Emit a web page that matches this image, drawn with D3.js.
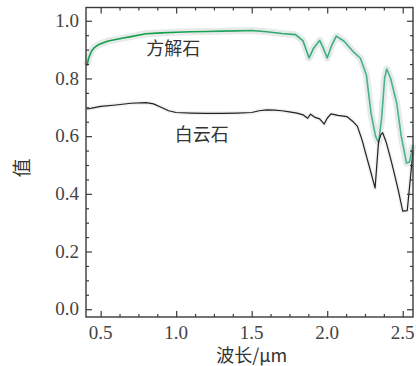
<!DOCTYPE html>
<html>
<head>
<meta charset="utf-8">
<script src="https://cdn.jsdelivr.net/npm/d3@7/dist/d3.min.js"></script>
<style>
  body { margin: 0; background: #fff; }
  svg { display: block; }
</style>
</head>
<body>
<div id="chart"></div>
<script>
// calcite (方解石) spectrum
const calciteWl = [0.41, 0.42, 0.44, 0.46, 0.48, 0.5, 0.55, 0.6, 0.65, 0.7, 0.8, 0.9, 1.0, 1.1, 1.2, 1.3, 1.4, 1.5, 1.6, 1.7, 1.79, 1.84, 1.88, 1.91, 1.95, 1.97, 2.0, 2.03, 2.06, 2.11, 2.17, 2.22, 2.26, 2.29, 2.32, 2.34, 2.36, 2.38, 2.394, 2.42, 2.46, 2.49, 2.525, 2.545, 2.568];
const calciteVal = [0.845, 0.87, 0.895, 0.908, 0.915, 0.92, 0.93, 0.935, 0.94, 0.945, 0.955, 0.958, 0.96, 0.962, 0.963, 0.964, 0.965, 0.966, 0.962, 0.956, 0.952, 0.93, 0.871, 0.905, 0.932, 0.91, 0.871, 0.915, 0.947, 0.93, 0.894, 0.87, 0.81, 0.68, 0.6, 0.577, 0.66, 0.8, 0.833, 0.8, 0.715, 0.6, 0.507, 0.51, 0.57];

// dolomite (白云石) spectrum
const dolomiteWl = [0.41, 0.45, 0.5, 0.6, 0.7, 0.8, 0.85, 0.9, 0.95, 1.0, 1.1, 1.2, 1.3, 1.4, 1.5, 1.55, 1.6, 1.65, 1.7, 1.75, 1.8, 1.84, 1.87, 1.89, 1.92, 1.95, 1.98, 2.0, 2.025, 2.07, 2.13, 2.17, 2.2, 2.23, 2.26, 2.29, 2.317, 2.34, 2.355, 2.367, 2.39, 2.416, 2.438, 2.47, 2.5, 2.53, 2.55, 2.568];
const dolomiteVal = [0.694, 0.698, 0.703, 0.708, 0.714, 0.716, 0.712, 0.7, 0.688, 0.682, 0.68, 0.679, 0.679, 0.68, 0.682, 0.688, 0.691, 0.69, 0.688, 0.684, 0.68, 0.674, 0.662, 0.676, 0.665, 0.66, 0.642, 0.662, 0.677, 0.672, 0.668, 0.651, 0.634, 0.588, 0.53, 0.473, 0.42, 0.58, 0.605, 0.612, 0.58, 0.53, 0.484, 0.414, 0.34, 0.342, 0.45, 0.55];

const xTicks = [0.5, 1.0, 1.5, 2.0, 2.5];
const yTicks = [0.0, 0.2, 0.4, 0.6, 0.8, 1.0];
const seriesLabels = ['方解石', '白云石'];
const xTitle = '波长/μm';
const yTitle = '值';

const W = 416, H = 366;
const margin = { top: 7.5, right: 3, bottom: 49, left: 86 };
const width = W - margin.left - margin.right;
const height = H - margin.top - margin.bottom;

const svg = d3.select('#chart').append('svg')
  .attr('width', W)
  .attr('height', H);

const defs = svg.append('defs');
const grad = defs.append('linearGradient')
  .attr('id', 'greenGrad')
  .attr('gradientUnits', 'userSpaceOnUse')
  .attr('x1', margin.left).attr('x2', margin.left + width)
  .attr('y1', 0).attr('y2', 0);
grad.append('stop').attr('offset', '0%').attr('stop-color', '#14a04a');
grad.append('stop').attr('offset', '25%').attr('stop-color', '#2aa868');
grad.append('stop').attr('offset', '60%').attr('stop-color', '#45b28e');
grad.append('stop').attr('offset', '100%').attr('stop-color', '#4fb79c');

const chart = svg.append('g')
  .attr('transform', `translate(${margin.left}, ${margin.top})`);

const xScale = d3.scaleLinear()
  .domain([0.403, 2.568])
  .range([0, width]);

const yScale = d3.scaleLinear()
  .domain([-0.027, 1.046])
  .range([height, 0]);

const xMinor = d3.range(0.5, 2.57, 0.125).filter(v => !xTicks.some(t => Math.abs(t - v) < 1e-6));
const yMinor = d3.range(0, 1.04, 0.05).filter(v => !yTicks.some(t => Math.abs(t - v) < 1e-6));

const line = d3.line()
  .x(d => xScale(d[0]))
  .y(d => yScale(d[1]));

const calcite = calciteWl.map((w, i) => [w, calciteVal[i]]);
const dolomite = dolomiteWl.map((w, i) => [w, dolomiteVal[i]]);

// soft noisy halo behind the curves
chart.append('path')
  .datum(calcite)
  .attr('fill', 'none')
  .attr('stroke', '#e6ebe9')
  .attr('stroke-width', 7)
  .attr('stroke-linejoin', 'round')
  .attr('d', line);

chart.append('path')
  .datum(dolomite)
  .attr('fill', 'none')
  .attr('stroke', '#f0f0f0')
  .attr('stroke-width', 4)
  .attr('stroke-linejoin', 'round')
  .attr('d', line);

chart.append('path')
  .datum(calcite)
  .attr('fill', 'none')
  .attr('stroke', 'url(#greenGrad)')
  .attr('stroke-width', 1.6)
  .attr('stroke-linejoin', 'round')
  .attr('d', line);

chart.append('path')
  .datum(dolomite)
  .attr('fill', 'none')
  .attr('stroke', '#222')
  .attr('stroke-width', 1.2)
  .attr('stroke-linejoin', 'round')
  .attr('d', line);

// frame with inward ticks on all sides
const axisColor = '#3a3a3a';
function styleAxis(g) {
  g.select('.domain').remove();
  g.selectAll('line').attr('stroke', axisColor).attr('stroke-width', 1.2);
}

chart.append('g')
  .attr('transform', `translate(0, ${height})`)
  .call(d3.axisBottom(xScale).tickValues(xTicks).tickSize(-6).tickFormat(''))
  .call(styleAxis);
chart.append('g')
  .attr('transform', `translate(0, ${height})`)
  .call(d3.axisBottom(xScale).tickValues(xMinor).tickSize(-3).tickFormat(''))
  .call(styleAxis);
chart.append('g')
  .call(d3.axisTop(xScale).tickValues(xTicks).tickSize(-6).tickFormat(''))
  .call(styleAxis);
chart.append('g')
  .call(d3.axisTop(xScale).tickValues(xMinor).tickSize(-3).tickFormat(''))
  .call(styleAxis);
chart.append('g')
  .call(d3.axisLeft(yScale).tickValues(yTicks).tickSize(-6).tickFormat(''))
  .call(styleAxis);
chart.append('g')
  .call(d3.axisLeft(yScale).tickValues(yMinor).tickSize(-3).tickFormat(''))
  .call(styleAxis);
chart.append('g')
  .attr('transform', `translate(${width}, 0)`)
  .call(d3.axisRight(yScale).tickValues(yTicks).tickSize(-6).tickFormat(''))
  .call(styleAxis);
chart.append('g')
  .attr('transform', `translate(${width}, 0)`)
  .call(d3.axisRight(yScale).tickValues(yMinor).tickSize(-3).tickFormat(''))
  .call(styleAxis);

chart.append('rect')
  .attr('width', width)
  .attr('height', height)
  .attr('fill', 'none')
  .attr('stroke', axisColor)
  .attr('stroke-width', 1.4);

// tick labels
chart.selectAll('.xlab')
  .data(xTicks)
  .enter()
  .append('text')
  .attr('x', d => xScale(d))
  .attr('y', height + 22)
  .attr('text-anchor', 'middle')
  .attr('font-family', 'Liberation Serif, serif')
  .attr('font-size', '19px')
  .attr('fill', '#444')
  .text(d => d3.format('.1f')(d));

chart.selectAll('.ylab')
  .data(yTicks)
  .enter()
  .append('text')
  .attr('x', -7)
  .attr('y', d => yScale(d))
  .attr('dy', '0.33em')
  .attr('text-anchor', 'end')
  .attr('font-family', 'Liberation Serif, serif')
  .attr('font-size', '19px')
  .attr('fill', '#444')
  .text(d => d3.format('.1f')(d));

// series labels
chart.append('text')
  .attr('x', xScale(0.98))
  .attr('y', yScale(0.88))
  .attr('text-anchor', 'middle')
  .attr('font-family', 'Noto Sans CJK SC, sans-serif')
  .attr('font-size', '18px')
  .attr('fill', '#333')
  .text(seriesLabels[0]);

chart.append('text')
  .attr('x', xScale(1.17))
  .attr('y', yScale(0.584))
  .attr('text-anchor', 'middle')
  .attr('font-family', 'Noto Sans CJK SC, sans-serif')
  .attr('font-size', '18px')
  .attr('fill', '#333')
  .text(seriesLabels[1]);

// axis titles
svg.append('text')
  .attr('x', margin.left + xScale(1.5))
  .attr('y', 362)
  .attr('text-anchor', 'middle')
  .attr('font-family', 'Noto Sans CJK SC, sans-serif')
  .attr('font-size', '18px')
  .attr('fill', '#333')
  .text(xTitle);

svg.append('text')
  .attr('transform', 'translate(29, 168) rotate(-90)')
  .attr('text-anchor', 'middle')
  .attr('font-family', 'Noto Sans CJK SC, sans-serif')
  .attr('font-size', '19px')
  .attr('fill', '#333')
  .text(yTitle);
</script>
</body>
</html>
